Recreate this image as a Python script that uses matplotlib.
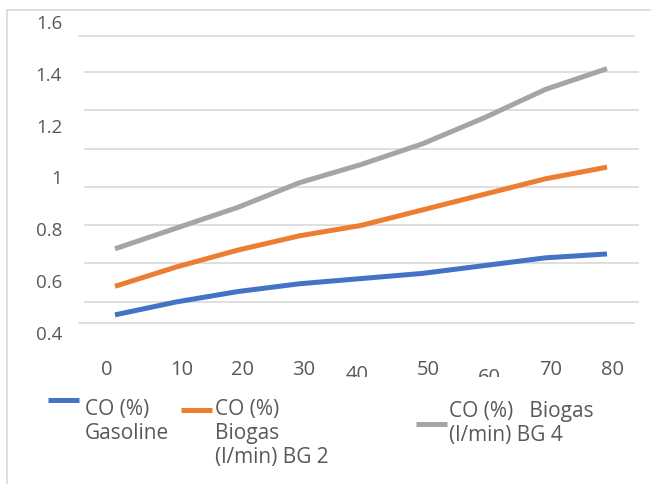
import matplotlib
matplotlib.use("Agg")
import matplotlib.pyplot as plt
from matplotlib.lines import Line2D
from matplotlib.ticker import FixedLocator
from matplotlib.transforms import ScaledTranslation, Bbox

# ---------------- data ----------------
x_values = [0, 10, 20, 30, 40, 50, 60, 70, 80]
x_tick_labels = ["0", "10", "20", "30", "40", "50", "60", "70", "80"]
co_gasoline = [0.47, 0.52, 0.56, 0.59, 0.61, 0.63, 0.66, 0.69, 0.705]
co_bg2 = [0.58, 0.655, 0.72, 0.775, 0.815, 0.875, 0.935, 0.995, 1.04]
co_bg4 = [0.725, 0.805, 0.885, 0.98, 1.05, 1.13, 1.23, 1.34, 1.42]
series_names = ["CO (%)\nGasoline", "CO (%)\nBiogas\n(l/min) BG 2", "CO (%)   Biogas\n(l/min) BG 4"]
y_tick_values = [0.4, 0.6, 0.8, 1.0, 1.2, 1.4, 1.6]
y_tick_labels = ["0.4", "0.6", "0.8", "1", "1.2", "1.4", "1.6"]

# ---------------- style / layout ----------------
W, H = 651, 484
FONT = "Open Sans"
TXT = "#595959"
GRID = "#d9d9d9"
colors = ["#4472C4", "#ED7D31", "#A5A5A5"]

fig = plt.figure(figsize=(W / 100, H / 100), dpi=100)
fig.patch.set_facecolor("white")


def fx(px):
    return px / W


def fy(py):
    return 1 - py / H


AX_L, AX_R, AX_T, AX_B = 84, 639, 22, 333
ax = fig.add_axes([fx(AX_L), fy(AX_B), (AX_R - AX_L) / W, (AX_B - AX_T) / H])
ax.set_facecolor("none")
for s in ax.spines.values():
    s.set_visible(False)

YMIN, YMAX = 0.4, 1.6
ax.set_ylim(YMIN, YMAX)
# x: first category at pixel 115, last at 607
px_per_unit = (607 - 115) / 80
ax.set_xlim(0 - (115 - AX_L) / px_per_unit, 80 + (AX_R - 607) / px_per_unit)

lines = []
for vals, c in zip([co_gasoline, co_bg2, co_bg4], colors):
    ln, = ax.plot(x_values, vals, color=c, lw=3.6, solid_capstyle="butt",
                  solid_joinstyle="round", zorder=3)
    lines.append(ln)

# gridlines (rows in pixels, converted to the axis scale)
def row_to_val(row):
    return YMAX - (row - AX_T) * (YMAX - YMIN) / (AX_B - AX_T)

inner_rows = [72, 110, 149, 187, 225, 263, 302]
ax.yaxis.set_minor_locator(FixedLocator([row_to_val(r) for r in inner_rows]))
ax.grid(which="minor", axis="y", color=GRID, lw=1.2, zorder=0)
ax.grid(which="major", visible=False)
for r in [36, 323]:
    ax.axhline(row_to_val(r), xmin=(79 - AX_L) / (AX_R - AX_L),
               xmax=(634 - AX_L) / (AX_R - AX_L), color=GRID, lw=1.2,
               clip_on=False, zorder=0)

ax.set_yticks(y_tick_values)
ax.set_yticklabels(y_tick_labels, fontfamily=FONT)
ax.tick_params(axis="y", which="both", length=0)
ax.tick_params(axis="y", which="major", pad=15.8, labelsize=13.5, labelcolor=TXT)

ax.set_xticks(x_values)
ax.set_xticklabels(x_tick_labels, fontfamily=FONT)
ax.tick_params(axis="x", which="both", length=0, pad=19.2, labelsize=14.5, labelcolor=TXT)

# individual label offsets (pixels) as in the reference
dx = [-8, 5.5, 5, 4.5, -4, 5.5, 5, 5.5, 5]
dy = [0, 0, 0, 0, -5, 0, -8, 0, 0]
clip = Bbox([[0, H - 377], [W, H]])
for lab, ox, oy in zip(ax.get_xticklabels(), dx, dy):
    lab.set_transform(lab.get_transform() + ScaledTranslation(ox / 100, oy / 100, fig.dpi_scale_trans))
    lab.set_clip_box(clip)
    lab.set_clip_on(True)

# outer chart border (left + top visible)
fig.add_artist(Line2D([fx(7), fx(7)], [fy(10), fy(H + 5)], color=GRID, lw=1.2))
fig.add_artist(Line2D([fx(7), fx(W + 5)], [fy(10), fy(10)], color=GRID, lw=1.2))

# manual legend
handles_px = [(48, 79, 400), (181, 212, 410), (416, 447, 424)]
text_px = [(85, 410), (215, 410), (449, 412)]
LINE_STEP = 23.5
for ln, name, (hx0, hx1, hy), (tx, ty) in zip(lines, series_names, handles_px, text_px):
    fig.add_artist(Line2D([fx(hx0), fx(hx1)], [fy(hy), fy(hy)], color=ln.get_color(),
                          lw=3.6, solid_capstyle="butt"))
    for i, part in enumerate(name.split("\n")):
        fig.text(fx(tx), fy(ty + i * LINE_STEP), part, ha="left", va="center",
                 fontsize=15, color=TXT, fontfamily=FONT)

fig.savefig("out.png", dpi=100)
